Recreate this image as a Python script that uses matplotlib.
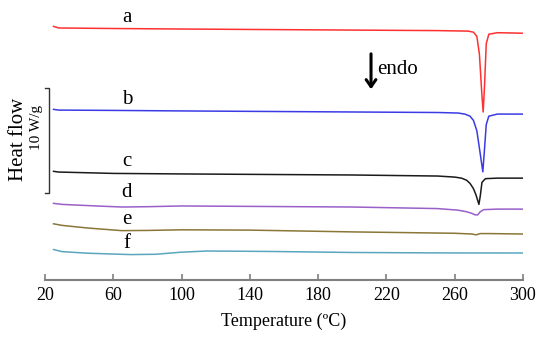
import matplotlib.pyplot as plt

plt.rcParams['font.family'] = ['Liberation Serif', 'DejaVu Serif']

# temperature (ºC) and stacked heat flow (W/g, offset) for each sample
Ta = [25, 28, 60, 100, 150, 200, 250, 268, 271, 273, 274.5, 276, 276.7, 277.5, 278.5, 280, 285, 300]
Ha = [24.15, 24.0, 23.95, 23.9, 23.85, 23.8, 23.75, 23.7, 23.6, 23.2, 21.5, 17.5, 16.0, 18.5, 22.5, 23.4, 23.55, 23.5]

Tb = [25, 28, 60, 100, 150, 200, 250, 262, 266, 269, 271, 273, 275, 276.5, 277.5, 278.5, 280, 285, 300]
Hb = [16.25, 16.18, 16.15, 16.1, 16.05, 16.0, 15.95, 15.9, 15.8, 15.6, 15.2, 14.2, 12.0, 10.3, 12.5, 14.8, 15.6, 15.8, 15.8]

Tc = [25, 28, 60, 100, 150, 200, 250, 260, 264, 267, 269, 271, 272.5, 274.2, 275, 276, 278, 285, 300]
Hc = [10.35, 10.28, 10.15, 10.1, 10.05, 10.0, 9.9, 9.8, 9.7, 9.5, 9.2, 8.7, 8.1, 7.2, 8.0, 9.3, 9.65, 9.7, 9.7]

Td = [25, 30, 50, 65, 80, 100, 150, 200, 250, 262, 267, 270, 272, 273.5, 275, 277, 285, 300]
Hd = [7.3, 7.2, 7.05, 6.95, 6.98, 7.05, 7.0, 6.95, 6.8, 6.65, 6.5, 6.35, 6.2, 6.2, 6.5, 6.7, 6.75, 6.75]

Te = [25, 30, 45, 65, 80, 100, 140, 200, 260, 270, 272.5, 275, 280, 300]
He = [5.35, 5.2, 4.95, 4.7, 4.72, 4.78, 4.75, 4.58, 4.45, 4.38, 4.3, 4.42, 4.42, 4.38]

Tf = [25, 30, 45, 70, 85, 100, 115, 150, 200, 250, 300]
Hf = [2.9, 2.7, 2.55, 2.42, 2.45, 2.65, 2.76, 2.72, 2.62, 2.58, 2.57]

curves = [(Ta, Ha, '#ff3030', 'a'), (Tb, Hb, '#3b3be6', 'b'), (Tc, Hc, '#1a1a1a', 'c'),
          (Td, Hd, '#9a5fc8', 'd'), (Te, He, '#8a7636', 'e'), (Tf, Hf, '#5aa6bf', 'f')]
label_y = [25.0, 17.2, 11.3, 8.3, 5.8, 3.5]

fig = plt.figure(figsize=(5.5, 3.41), dpi=100)
ax = fig.add_axes([0.0818, 0.1789, 0.869, 0.8065])

for (T, H, col, name), ly in zip(curves, label_y):
    ax.plot(T, H, color=col, lw=1.1)
    ax.text(68, ly, name, fontsize=15, ha='center', va='center')

ax.set_xlim(20, 300)
ax.set_ylim(0, 26.19)
ax.set_xticks(range(20, 301, 40))
ax.set_yticks([])
for s in ['left', 'right', 'top']:
    ax.spines[s].set_visible(False)
ax.spines['bottom'].set_color('#808080')
ax.spines['bottom'].set_linewidth(1.5)
ax.tick_params(axis='x', direction='in', length=4, width=1.2, color='#808080',
               labelsize=13, pad=5)
for lab in ax.get_xticklabels():
    lab.set_family('Liberation Serif')
ax.set_xlabel('Temperature (ºC)', fontsize=13, labelpad=6)

# endo arrow
ax.annotate('', xy=(211, 17.9), xytext=(211, 21.8),
            arrowprops=dict(arrowstyle='->,head_length=0.5,head_width=0.35', lw=2.2, color='black'))
ax.text(214.5, 20.0, 'endo', fontsize=15, ha='left', va='center')

# scale bar
ax.plot([20, 22.3, 22.3, 20], [18.3, 18.3, 8.3, 8.3], color='#333333', lw=1.0, clip_on=False)
fig.text(0.033, 0.59, 'Heat flow', rotation=90, fontsize=15, ha='center', va='center')
fig.text(0.066, 0.625, '10 W/g', rotation=90, fontsize=11, ha='center', va='center')

fig.savefig('out.png', dpi=100)
